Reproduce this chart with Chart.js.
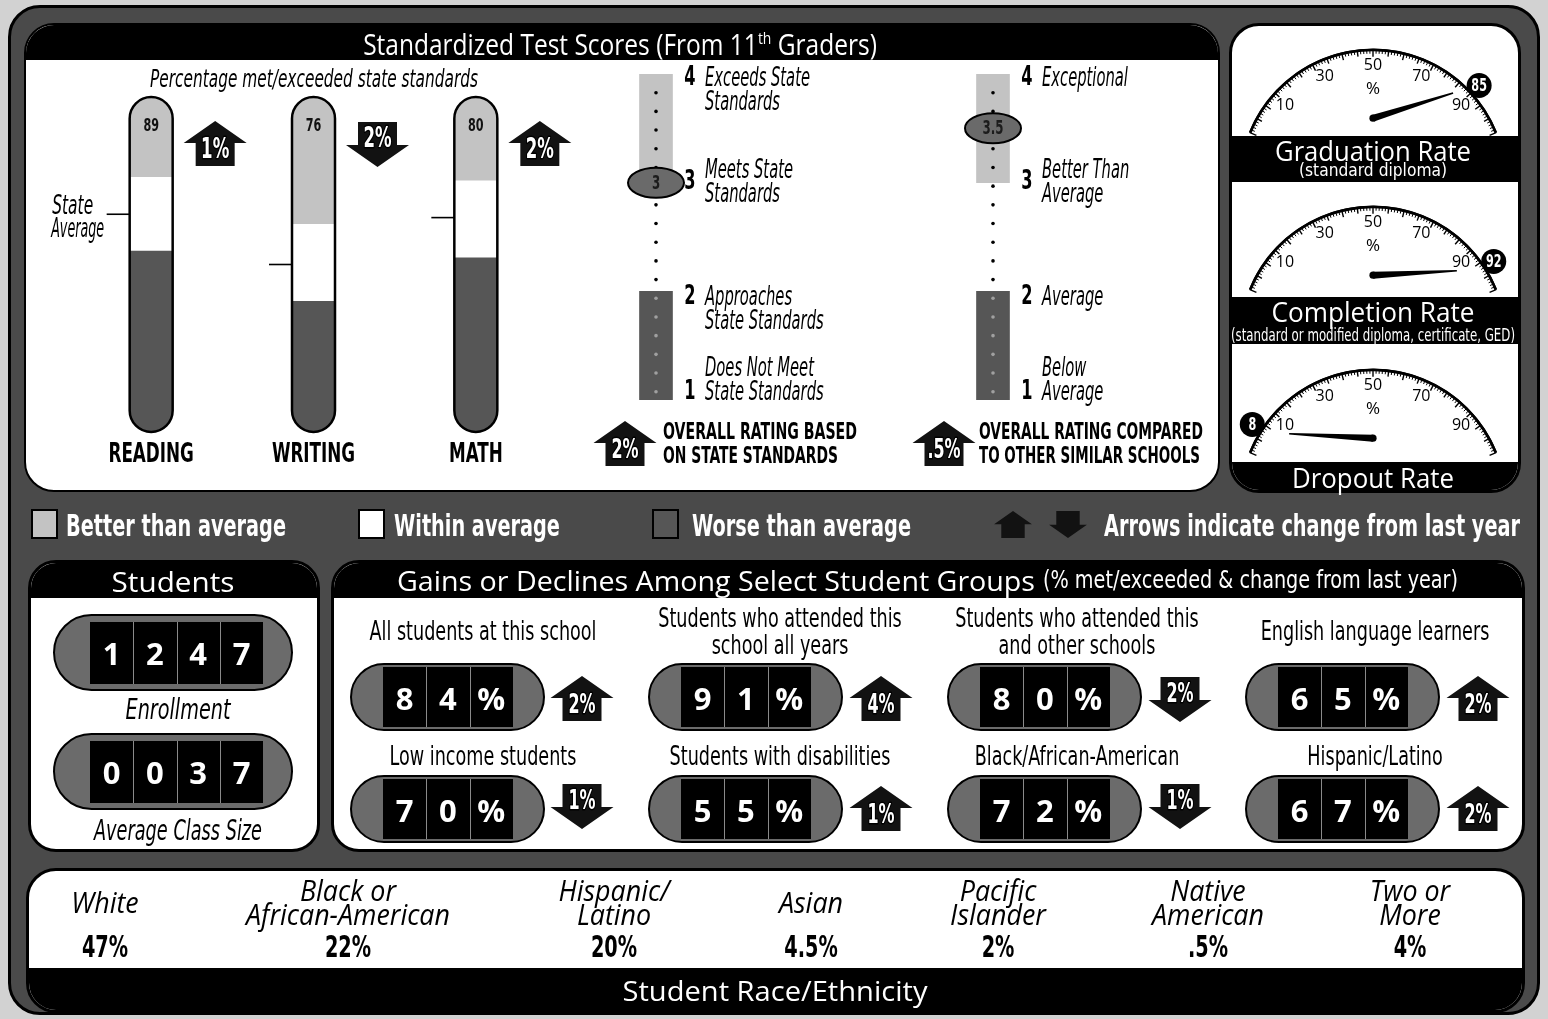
<!DOCTYPE html>
<html><head><meta charset="utf-8"><title>School Report Card</title>
<script src="https://cdn.jsdelivr.net/npm/chart.js@4.4.1/dist/chart.umd.min.js"></script>
<style>
html,body{margin:0;padding:0;background:#d2d2d2;}
#root{position:relative;width:1548px;height:1019px;overflow:hidden;}
.abs{position:absolute;box-sizing:border-box;}
.t{position:absolute;white-space:nowrap;line-height:1;}
canvas.c{position:absolute;}
</style></head><body><div id="root"></div>
<script>
// ---------------- DATA ----------------
const subjects = ['READING', 'WRITING', 'MATH'];
const subjectScores = [89, 76, 80];
const worseBandTop = [54, 39, 52];
const withinBandTop = [76, 62, 75];
const stateAverage = [65, 50, 64];
const subjectChange = [1, -2, 2];

const ratingScales = ['State standards', 'Similar schools'];
const ratingValues = [3, 3.5];
const ratingChange = [2, 0.5];
const betterBand = [3, 4];
const worseBand = [1, 2];
const stateLevelLabels = [['Does Not Meet', 'State Standards'], ['Approaches', 'State Standards'], ['Meets State', 'Standards'], ['Exceeds State', 'Standards']];
const similarLevelLabels = [['Below', 'Average'], ['Average'], ['Better Than', 'Average'], ['Exceptional']];
const ratingCaptions = [['OVERALL RATING BASED', 'ON STATE STANDARDS'], ['OVERALL RATING COMPARED', 'TO OTHER SIMILAR SCHOOLS']];

const gaugeTitles = ['Graduation Rate', 'Completion Rate', 'Dropout Rate'];
const gaugeNotes = ['(standard diploma)', '(standard or modified diploma, certificate, GED)', ''];
const gaugeValues = [85, 92, 8];
const gaugeTickLabels = [10, 30, 50, 70, 90];

const enrollment = 1247;
const averageClassSize = 37;

const groupNames = ['All students at this school', 'Students who attended this\nschool all years', 'Students who attended this\nand other schools', 'English language learners',
  'Low income students', 'Students with disabilities', 'Black/African-American', 'Hispanic/Latino'];
const groupPct = [84, 91, 80, 65, 70, 55, 72, 67];
const groupChange = [2, 4, -2, 2, -1, 1, -1, 2];

const raceLabels = ['White', 'Black or\nAfrican-American', 'Hispanic/\nLatino', 'Asian', 'Pacific\nIslander', 'Native\nAmerican', 'Two or\nMore'];
const racePct = ['47%', '22%', '20%', '4.5%', '2%', '.5%', '4%'];

const legendItems = ['Better than average', 'Within average', 'Worse than average'];

// ---------------- STYLE ----------------
const C = {better: '#c3c3c3', within: '#ffffff', worse: '#565656', frame: '#4a4a4a', pill: '#6b6b6b', arrow: '#121212'};
const NARROW = '"Liberation Sans Narrow","Arial Narrow","DejaVu Sans Condensed",sans-serif';
const SANS = '"Open Sans","Noto Sans","DejaVu Sans",sans-serif';
const F = {
  HR: {family: SANS, weight: 400, style: 'normal', ref: 'Gains or Declines Among Select Student Groups', refSize: 27, refW: 638},
  BC: {family: NARROW, weight: 700, style: 'normal', ref: 'Arrows indicate change from last year', refSize: 31, refW: 416},
  IC: {family: NARROW, weight: 400, style: 'italic', ref: 'Exceeds State', refSize: 26, refW: 105},
  RC: {family: NARROW, weight: 400, style: 'normal', ref: 'All students at this school', refSize: 26, refW: 227},
  RI: {family: SANS, weight: 400, style: 'italic', ref: 'African-American', refSize: 29, refW: 204},
  DB: {family: SANS, weight: 700, style: 'normal', refW: 0},
  GL: {family: SANS, weight: 400, style: 'normal', refW: 0}
};
const root = document.getElementById('root');
const mctx = document.createElement('canvas').getContext('2d');
function fstr(c, s) { return `${c.style} ${c.weight} ${s}px ${c.family}`; }
for (const c of Object.values(F)) {
  if (c.refW) { mctx.font = fstr(c, c.refSize); c.k = c.refW / mctx.measureText(c.ref).width; } else c.k = 1;
}
function measure(cls, size, s) { mctx.font = fstr(F[cls], size); return mctx.measureText(s).width; }
function T(s, x, y, cls, size, color, align, w, html) {
  const c = F[cls]; const d = document.createElement('div'); d.className = 't';
  if (html) d.innerHTML = html; else d.textContent = s;
  d.style.font = fstr(c, size); d.style.color = color || '#000';
  d.style.left = x + 'px'; d.style.top = y + 'px';
  const k = w ? w / measure(cls, size, s) : c.k;
  align = align || 'center';
  const tx = align === 'center' ? '-50%' : align === 'left' ? '0px' : '-100%';
  d.style.transformOrigin = align === 'center' ? '50% 50%' : align === 'left' ? '0 50%' : '100% 50%';
  d.style.transform = `translate(${tx},-50%) scaleX(${k})`;
  root.appendChild(d); return d;
}
function ctext(ctx, s, x, y, cls, size, color, align, w) {
  const c = F[cls]; ctx.save(); ctx.font = fstr(c, size); ctx.fillStyle = color;
  ctx.textAlign = align || 'center'; ctx.textBaseline = 'middle';
  const k = w ? w / ctx.measureText(s).width : c.k;
  ctx.translate(x, y); ctx.scale(k, 1); ctx.fillText(s, 0, 0); ctx.restore();
}
function box(l, t, w, h, st, parent) {
  const d = document.createElement('div'); d.className = 'abs';
  Object.assign(d.style, {left: l + 'px', top: t + 'px', width: w + 'px', height: h + 'px'}, st || {});
  (parent || root).appendChild(d); return d;
}
function mkCanvas(l, t, w, h) {
  const cv = document.createElement('canvas'); cv.className = 'c'; cv.width = w; cv.height = h;
  Object.assign(cv.style, {left: l + 'px', top: t + 'px', width: w + 'px', height: h + 'px'});
  root.appendChild(cv); return cv;
}
function fmtChange(v) { const a = Math.abs(v); return (a < 1 ? String(a).replace(/^0/, '') : String(a)) + '%'; }
function drawArrow(ctx, cx, top, up, label, s, fs) {
  s = s || 1; fs = fs || 28;
  const H = 45 * s, hw = 31.5 * s, sw = 19.5 * s, hh = 22 * s;
  ctx.save(); ctx.beginPath();
  if (up) {
    ctx.moveTo(cx, top); ctx.lineTo(cx + hw, top + hh); ctx.lineTo(cx + sw, top + hh); ctx.lineTo(cx + sw, top + H);
    ctx.lineTo(cx - sw, top + H); ctx.lineTo(cx - sw, top + hh); ctx.lineTo(cx - hw, top + hh);
  } else {
    ctx.moveTo(cx - sw, top); ctx.lineTo(cx + sw, top); ctx.lineTo(cx + sw, top + H - hh); ctx.lineTo(cx + hw, top + H - hh);
    ctx.lineTo(cx, top + H); ctx.lineTo(cx - hw, top + H - hh); ctx.lineTo(cx - sw, top + H - hh);
  }
  ctx.closePath(); ctx.fillStyle = C.arrow; ctx.fill();
  if (label) {
    ctx.save(); ctx.lineJoin = 'round'; ctx.strokeStyle = '#000'; ctx.lineWidth = 3;
    ctx.font = fstr(F.BC, fs); ctx.textAlign = 'center'; ctx.textBaseline = 'middle';
    const ty = up ? top + 30 * s : top + 18 * s;
    ctx.translate(cx, ty); ctx.scale(F.BC.k * 0.95, 1); ctx.strokeText(label, 0, 0);
    ctx.fillStyle = '#fff'; ctx.fillText(label, 0, 0); ctx.restore();
  }
  ctx.restore();
}
const base = {responsive: false, animation: false, events: [], plugins: {legend: {display: false}, tooltip: {enabled: false}}};

// ---------------- FRAME & PANELS ----------------
box(8, 5, 1532, 1010, {border: '3px solid #000', borderRadius: '32px', background: C.frame});
const testPanel = box(24, 23, 1196, 469, {background: '#fff', border: '2px solid #000', borderRadius: '30px', overflow: 'hidden'});
box(0, 0, 1192, 35, {background: '#000'}, testPanel);
const gPanel = box(1229, 23, 292, 470, {background: '#fff', border: '3px solid #000', borderRadius: '30px', overflow: 'hidden'});
box(0, 110, 286, 46, {background: '#000'}, gPanel);
box(0, 271, 286, 47, {background: '#000'}, gPanel);
box(0, 436, 286, 40, {background: '#000'}, gPanel);
const sPanel = box(28, 560, 292, 292, {background: '#fff', border: '3px solid #000', borderRadius: '28px', overflow: 'hidden'});
box(0, 0, 286, 35, {background: '#000'}, sPanel);
const gainPanel = box(331, 560, 1194, 292, {background: '#fff', border: '3px solid #000', borderRadius: '28px', overflow: 'hidden'});
box(0, 0, 1188, 35, {background: '#000'}, gainPanel);
const rPanel = box(26, 868, 1499, 145, {background: '#fff', border: '3px solid #000', borderRadius: '30px', overflow: 'hidden'});
box(0, 97, 1493, 50, {background: '#000'}, rPanel);

// legend swatches
const swatchX = [31, 358, 652];
const swatchCol = [C.better, C.within, C.worse];
const legendTextX = [66, 394, 692];
legendItems.forEach((s, i) => box(swatchX[i], 509, 27, 30, {background: swatchCol[i], border: '2px solid #000'}));

// odometers
function odometer(x, y, w, h, digits, cellX, cellW, cellH) {
  box(x, y, w, h, {background: C.pill, border: '2px solid #000', borderRadius: h / 2 + 'px'});
  digits.forEach((d, k) => {
    const cx = cellX + k * cellW;
    box(cx, y + (h - cellH) / 2, cellW, cellH, {background: '#000', borderLeft: k ? '1px solid #8a8a8a' : 'none'});
  });
}
const odoDigits = [];
const studentDigits = [String(enrollment).padStart(4, '0').split(''), String(averageClassSize).padStart(4, '0').split('')];
[614, 733].forEach((y, r) => {
  odometer(53, y, 240, 77, studentDigits[r], 90, 43.3, 62);
  studentDigits[r].forEach((d, k) => odoDigits.push([d, 90 + k * 43.3 + 21.6, y + 39, 31]));
});
const pillX = [350, 648, 947, 1245];
const pillY = [663, 775];
groupPct.forEach((p, i) => {
  const col = i % 4, row = Math.floor(i / 4);
  const digs = String(p).split('').concat('%');
  odometer(pillX[col], pillY[row], 195, 68, digs, pillX[col] + 33, 43.3, 60);
  digs.forEach((d, k) => odoDigits.push([d, pillX[col] + 33 + k * 43.3 + 21.6, pillY[row] + 35, 31]));
});

// ---------------- THERMOMETERS ----------------
const thermoPlugin = {
  id: 'thermo',
  afterDatasetsDraw(chart) {
    const {ctx, scales: {y}} = chart;
    chart.getDatasetMeta(0).data.forEach((bar, i) => {
      const w = bar.width, cx = bar.x, top = y.getPixelForValue(100), bot = y.getPixelForValue(0);
      ctx.save();
      ctx.lineWidth = 2.5; ctx.strokeStyle = '#000';
      ctx.beginPath(); ctx.roundRect(cx - w / 2, top, w, bot - top, w / 2); ctx.stroke();
      ctext(ctx, String(subjectScores[i]), cx, y.getPixelForValue(91.3), 'BC', 18, '#111');
      const py = y.getPixelForValue(stateAverage[i]);
      ctx.lineWidth = 1.6; ctx.beginPath(); ctx.moveTo(cx - w / 2 - 23, py); ctx.lineTo(cx - w / 2, py); ctx.stroke();
      if (i === 0) {
        ctext(ctx, 'State', cx - w / 2 - 57, py - 7, 'IC', 26, '#000', 'center', 41);
        ctext(ctx, 'Average', cx - w / 2 - 52, py + 16, 'IC', 26, '#000', 'center', 53);
      }
      ctext(ctx, subjects[i], cx, bot + 23, 'BC', 27, '#000');
      const ch = subjectChange[i];
      drawArrow(ctx, cx + 64, ch > 0 ? top + 24 : top + 25, ch > 0, fmtChange(ch));
      ctx.restore();
    });
  }
};
new Chart(mkCanvas(40, 62, 560, 418), {
  type: 'bar',
  data: {labels: subjects, datasets: [
    {label: 'Worse than average', data: subjects.map((_, i) => [0, worseBandTop[i]]), backgroundColor: C.worse,
      borderSkipped: false, borderRadius: {topLeft: 0, topRight: 0, bottomLeft: 22, bottomRight: 22}},
    {label: 'Within average', data: subjects.map((_, i) => [worseBandTop[i], withinBandTop[i]]), backgroundColor: C.within, borderSkipped: false},
    {label: 'Better than average', data: subjects.map((_, i) => [withinBandTop[i], 100]), backgroundColor: C.better,
      borderSkipped: false, borderRadius: {topLeft: 22, topRight: 22, bottomLeft: 0, bottomRight: 0}}
  ]},
  options: Object.assign({}, base, {
    layout: {padding: {left: 30, right: 43, top: 35, bottom: 48}},
    datasets: {bar: {grouped: false, barThickness: 43}},
    scales: {x: {display: false}, y: {display: false, min: 0, max: 100}}
  }),
  plugins: [thermoPlugin]
});

// ---------------- RATING SCALES ----------------
const levelNumDy = [-8, 6, 0, 4];
const levelMode = ['last', 'first', 'center', 'first'];
const ratingPlugin = {
  id: 'rating',
  afterDatasetsDraw(chart) {
    const {ctx, scales: {y}} = chart;
    chart.getDatasetMeta(0).data.forEach((bar, i) => {
      const cx = bar.x;
      ctx.save();
      for (let v = 4 - 0.172; v > 1.05; v -= 0.172) {
        const py = y.getPixelForValue(v);
        ctx.fillStyle = v < 2 ? '#a0a0a0' : '#000';
        ctx.beginPath(); ctx.arc(cx, py, 1.8, 0, Math.PI * 2); ctx.fill();
      }
      const labels = i === 0 ? stateLevelLabels : similarLevelLabels;
      labels.forEach((lines, li) => {
        const lvl = li + 1; const py = y.getPixelForValue(lvl) + levelNumDy[li];
        ctext(ctx, String(lvl), cx + 34, py, 'BC', 26, '#000');
        const n = lines.length; const mode = levelMode[li];
        lines.forEach((s, k) => {
          let ly;
          if (mode === 'first') ly = py + k * 24;
          else if (mode === 'last') ly = py - (n - 1 - k) * 24;
          else ly = py - (n - 1) * 12 + k * 24;
          ctext(ctx, s, cx + 49, ly + 1, 'IC', 26, '#000', 'left');
        });
      });
      const py = y.getPixelForValue(ratingValues[i]);
      ctx.beginPath(); ctx.ellipse(cx, py, 28, 15, 0, 0, Math.PI * 2);
      ctx.fillStyle = '#6a6a6a'; ctx.fill(); ctx.lineWidth = 2; ctx.strokeStyle = '#000'; ctx.stroke();
      ctext(ctx, String(ratingValues[i]), cx, py + 1, 'BC', 19, '#1c1c1c');
      ctx.restore();
    });
  }
};
new Chart(mkCanvas(480, 60, 760, 360), {
  type: 'bar',
  data: {labels: ratingScales, datasets: [
    {label: 'Better than average', data: ratingScales.map(() => betterBand), backgroundColor: C.better},
    {label: 'Worse than average', data: ratingScales.map(() => worseBand), backgroundColor: C.worse}
  ]},
  options: Object.assign({}, base, {
    layout: {padding: {left: 7.5, right: 78.5, top: 14, bottom: 20}},
    datasets: {bar: {grouped: false, barThickness: 33}},
    scales: {x: {display: false}, y: {display: false, min: 1, max: 4}}
  }),
  plugins: [ratingPlugin]
});

// ---------------- GAUGES ----------------
const gaugeTop = [36, 193, 356];
gaugeValues.forEach((v, gi) => {
  const plug = {
    id: 'gauge' + gi,
    afterDatasetsDraw(chart) {
      const ctx = chart.ctx; const meta = chart.getDatasetMeta(0);
      const a0 = meta.data[0].startAngle, a1 = meta.data[1].endAngle;
      const {x: cx, y: cy, outerRadius: R} = meta.data[0];
      const ang = t => a0 + (a1 - a0) * t / 100;
      const mid = (a0 + a1) / 2;
      ctx.save(); ctx.strokeStyle = '#000';
      ctx.lineWidth = 2.2; ctx.beginPath(); ctx.arc(cx, cy, R - 1, a0, a1); ctx.stroke();
      for (let t = 0; t <= 100; t++) {
        const a = ang(t); const len = t % 10 === 0 ? 7 : t % 5 === 0 ? 6 : 4;
        ctx.lineWidth = t % 5 === 0 ? 1.4 : 1;
        ctx.beginPath(); ctx.moveTo(cx + Math.cos(a) * (R - 1), cy + Math.sin(a) * (R - 1));
        ctx.lineTo(cx + Math.cos(a) * (R - 1 - len), cy + Math.sin(a) * (R - 1 - len)); ctx.stroke();
      }
      gaugeTickLabels.forEach(t => {
        const a = mid + (ang(t) - mid) * 0.9;
        ctext(ctx, String(t), cx + Math.cos(a) * (R - 17), cy + Math.sin(a) * (R - 17), 'GL', 16, '#000');
      });
      ctext(ctx, '%', cx, cy - R + 40, 'GL', 17, '#000');
      // needle
      const px = cx, py = cy - 0.48 * R;
      const th = (90 - (v - 50) * 2.07) * Math.PI / 180; const L = 84;
      const tx = px + L * Math.cos(th), ty = py - L * Math.sin(th);
      const nx = -Math.sin(th), ny = -Math.cos(th);
      ctx.fillStyle = '#000'; ctx.beginPath();
      ctx.moveTo(px + nx * 3.5, py + ny * 3.5); ctx.lineTo(tx + nx * 0.8, ty + ny * 0.8);
      ctx.lineTo(tx - nx * 0.8, ty - ny * 0.8); ctx.lineTo(px - nx * 3.5, py - ny * 3.5); ctx.closePath(); ctx.fill();
      ctx.beginPath(); ctx.arc(px, py, 3.6, 0, Math.PI * 2); ctx.fill();
      // badge
      const ba = ang(v); const bx = cx + Math.cos(ba) * (R + 10), by = cy + Math.sin(ba) * (R + 10);
      ctx.beginPath(); ctx.arc(bx, by, 12.5, 0, Math.PI * 2); ctx.fill();
      ctext(ctx, String(v), bx, by + 1, 'BC', 18, '#fff');
      ctx.restore();
    }
  };
  new Chart(mkCanvas(1236, gaugeTop[gi], 274, 104), {
    type: 'doughnut',
    data: {labels: ['rate', 'rest'], datasets: [{data: [v, 100 - v], backgroundColor: ['#000', '#000'], borderWidth: 0}]},
    options: Object.assign({}, base, {rotation: -68, circumference: 136, cutout: '98%',
      layout: {padding: {left: 13, right: 13, top: 12, bottom: 6}}}),
    plugins: [plug]
  });
});

// ---------------- DECORATION ARROWS ----------------
const deco = mkCanvas(0, 0, 1548, 1019);
const dctx = deco.getContext('2d');
const gainArrowX = [582, 881, 1180, 1478];
const gainArrowTop = [[676, 677], [786, 784]];
groupChange.forEach((ch, i) => {
  const col = i % 4, row = Math.floor(i / 4);
  drawArrow(dctx, gainArrowX[col], ch > 0 ? gainArrowTop[row][0] : gainArrowTop[row][1], ch > 0, fmtChange(ch), 1, 27);
});
drawArrow(dctx, 1013, 511, true, '', 0.6);
drawArrow(dctx, 1068, 511, false, '', 0.6);
const ratingArrowX = [625, 944];
ratingChange.forEach((ch, i) => drawArrow(dctx, ratingArrowX[i], 421, ch > 0, fmtChange(ch), 1, 27));

// ---------------- TEXT ----------------
T('Standardized Test Scores (From 11th Graders)', 620, 43, 'HR', 30, '#fff', 'center', 524,
  'Standardized Test Scores (From 11<span style="font-size:17px;vertical-align:11px">th</span> Graders)');
T('Percentage met/exceeded state standards', 314, 78, 'IC', 25, '#000', 'center', 328);
const capX = [663, 979];
const capW = [[194, 175], [224, 221]];
ratingCaptions.forEach((lines, i) => lines.forEach((s, k) => T(s, capX[i], 431 + k * 24, 'BC', 23, '#000', 'left', capW[i][k])));

const gTitleY = [150, 311, 477];
gaugeTitles.forEach((s, i) => {
  T(s, 1373, gTitleY[i], 'HR', 27, '#fff', 'center', [196, 203, 162][i]);
  if (gaugeNotes[i]) T(gaugeNotes[i], 1373, gTitleY[i] + [20, 24][i], 'RC', 17, '#fff', 'center', [148, 284][i]);
});

legendItems.forEach((s, i) => T(s, legendTextX[i], 525, 'BC', 31, '#fff', 'left'));
T('Arrows indicate change from last year', 1104, 525, 'BC', 31, '#fff', 'left');

T('Students', 173, 581, 'HR', 28, '#fff');
T('Enrollment', 178, 709, 'IC', 28, '#000', 'center', 105);
T('Average Class Size', 178, 830, 'IC', 28, '#000', 'center', 168);

T('Gains or Declines Among Select Student Groups', 397, 580, 'HR', 28, '#fff', 'left', 638);
T('(% met/exceeded & change from last year)', 1043, 580, 'RC', 24, '#fff', 'left', 415);
const groupTitleX = [483, 780, 1077, 1375];
const groupTitleY = [631, 756];
groupNames.forEach((s, i) => {
  const col = i % 4, row = Math.floor(i / 4);
  const lines = s.split('\n');
  lines.forEach((ln, k) => T(ln, groupTitleX[col], groupTitleY[row] - (lines.length - 1) * 13.5 + k * 27, 'RC', 26));
});
odoDigits.forEach(([d, x, y, fs]) => T(d, x, y, 'DB', fs, '#fff'));

const raceX = [105, 348, 614, 811, 998, 1208, 1410];
raceLabels.forEach((s, i) => {
  const lines = s.split('\n');
  lines.forEach((ln, k) => T(ln, raceX[i], 901 - (lines.length - 1) * 12 + k * 24, 'RI', 29));
  T(racePct[i], raceX[i], 946, 'BC', 31);
});
T('Student Race/Ethnicity', 775, 990, 'HR', 28, '#fff', 'center', 305);
</script></body></html>
